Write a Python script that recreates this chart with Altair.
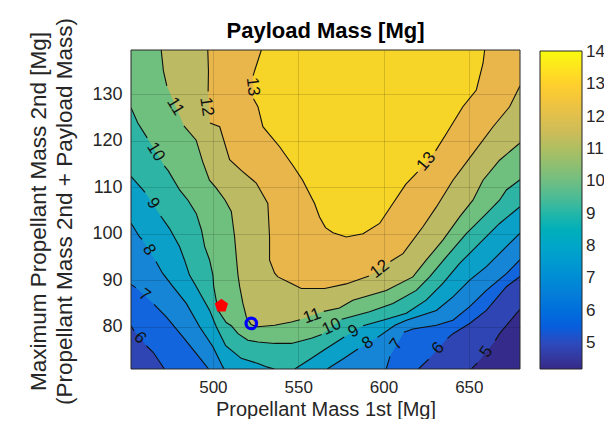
import altair as alt
import pandas as pd

# ---------------- data ----------------
x_domain = [452, 680]
y_domain = [70.9, 139.5]
x_ticks = [500, 550, 600, 650]
y_ticks = [80, 90, 100, 110, 120, 130]
levels = [5, 6, 7, 8, 9, 10, 11, 12, 13]
cbar_ticks = [5, 6, 7, 8, 9, 10, 11, 12, 13, 14]
cbar_domain = [4.2, 14.03]
title_text = "Payload Mass [Mg]"
x_title = "Propellant Mass 1st [Mg]"
y_title = ["Maximum Propellant Mass 2nd [Mg]", "(Propellant Mass 2nd + Payload Mass)"]

# fill colour of each band: <5, 5-6, 6-7, ..., 13-14
band_colors = ["#342B8A", "#2E45B3", "#1265DC", "#1785D5", "#0AA0C8",
               "#2DB4A5", "#6FBF7F", "#BCBA62", "#E9B64B", "#F7D428"]
parula = ["#352a87", "#0f5cdd", "#1481d6", "#06a4ca", "#2eb7a4",
          "#87bf77", "#d1bb59", "#fec832", "#f9fb0e"]

# contour lines: level -> branches -> segments (gaps where labels sit)
c5 = [[[(651.5, 70.9), (655.0, 72.2)],
       [(665.5, 77.0), (668, 78.5), (677.8, 82.8), (680, 83.7)]]]
c6 = [[[(452, 80.2), (453.8, 79.1)],
       [(461.0, 75.9), (465, 74.5), (470.7, 71.4), (471.5, 70.9)]],
      [[(620.5, 70.9), (626.5, 73.0)],
       [(637.5, 77.5), (640.7, 78.5), (650.5, 80.7), (660.3, 83.5), (672, 88.6), (680, 90.8)]]]
c7 = [[[(452, 89.1), (454.8, 88.4)],
       [(465.5, 84.8), (472.7, 82.1), (482.4, 77.8), (490.3, 74.2), (497.5, 70.9)]],
      [[(601.6, 70.9), (603.8, 73.6)],
       [(612.0, 78.8), (617.2, 79.5), (631, 80.3), (640.7, 81.4), (650.5, 84.3), (660.3, 87.8), (672, 91.4), (680, 94.4)]]]
c8 = [[[(452, 102.3), (457, 99.3), (458.5, 98.8)],
       [(466.6, 94.0), (470.5, 91.5), (476.6, 88.6), (484.4, 85.0), (492.2, 80.0), (500, 75.7), (505.9, 71.3), (506.6, 70.9)]],
      [[(567, 70.9), (576, 73.0), (585.0, 75.2)],
       [(596.5, 77.7), (606.7, 80.3), (613.4, 81.4), (631, 83.5), (640.7, 86.4), (650.5, 90.0), (660.3, 92.9), (672, 97.2), (680, 100.1)]]]
c9 = [[[(452, 112.3), (459, 109.4), (460.2, 108.9)],
       [(469.4, 103.8), (474.6, 101.1), (480.5, 97.2), (483.4, 94.3), (486.3, 91.1), (490.3, 88.6), (498.1, 83.5), (502, 80.0),
        (507.5, 75.9), (516.6, 73.2), (526.4, 72.1), (532, 71.3), (536, 70.9)]],
      [[(548, 70.9), (556, 72.8), (566, 75.2), (577.0, 77.8)],
       [(588.0, 80.2), (601.6, 81.6), (613.4, 82.9), (625, 85.7), (634.8, 89.3), (644.6, 93.6), (656.3, 97.9), (668, 102.2), (680, 105.8)]]]
c10 = [[[(452, 127.1), (456, 123.8), (461.5, 120.6)],
        [(471.5, 114.6), (473.7, 113.6), (480.5, 109.4), (485.4, 107.2), (490.3, 104.3), (493.3, 100.8), (495.2, 97.2),
         (498.1, 94.3), (500, 91.1), (500.5, 88.6), (503, 83.5), (507.8, 80.9), (510.8, 80.2), (514.7, 78.5), (520.5, 77.1),
         (526.4, 76.7), (536.2, 76.4), (546, 76.4), (557.7, 77.5), (563.8, 78.3)],
        [(575.5, 81.6), (591.8, 83.2), (605.5, 85.0), (619.2, 87.8), (627, 90.7), (636.8, 95.0), (648.5, 100.0), (660.3, 104.3),
         (668, 107.2), (672, 109.4), (680, 111.6)]]]
c11 = [[[(469.7, 139.5), (471, 135.0), (473.0, 131.8)],
        [(483.0, 123.2), (490.2, 120.1), (494, 115.5), (498, 111.5), (502, 109.8), (507, 107.3), (510.8, 104.8), (512.7, 99.4),
         (513.7, 95.1), (514.7, 91.1), (515.7, 88.6), (517.6, 85.0), (519.6, 82.1), (522.5, 80.4), (526.4, 80.0), (536.2, 80.3),
         (546, 81.0), (551.0, 81.5)],
        [(565.0, 83.3), (574.2, 84.0), (582, 85.7), (601.6, 87.8), (617.2, 90.7), (625, 94.3), (634.8, 98.6), (644.6, 103.6),
         (652.4, 107.2), (658.3, 111.5), (668, 115.8), (680, 119.5)]]]
c12 = [[[(497, 139.5), (497.4, 135.0), (497.2, 130.6)],
        [(498.3, 123.8), (504, 123.0), (509.8, 115.9), (516.6, 113.6), (525.4, 110.9), (532.2, 106.5), (533.2, 99.4),
         (533.2, 94.3), (536.2, 91.5), (538.1, 90.7), (546, 89.3), (551.8, 88.2), (565.5, 88.2), (578.1, 89.2), (591.5, 90.9)],
        [(604.0, 94.0), (611.4, 95.7), (623.1, 101.5), (630.9, 105.7), (640.7, 111.5), (652.4, 117.2), (664.2, 123.0),
         (673.9, 127.3), (680, 131.8)]]]
c13 = [[[(528.4, 139.5), (524.5, 135.1), (523.6, 134.0)],
        [(523.8, 129.0), (526.4, 127.3), (529.3, 123.0), (539.1, 118.7), (547, 114.6), (552.6, 111.5), (559.6, 106.5),
         (562.5, 103.6), (566, 101.3), (570.4, 100.2), (578.2, 99.3), (588, 100.0), (597.7, 102.2), (605.5, 106.5),
         (613, 110.6), (620.0, 113.3)],
        [(630.5, 117.8), (636.8, 121.5), (646.5, 127.3), (654.4, 130.9), (658.3, 136.6), (659.3, 139.5)]]]
contours = {5: c5, 6: c6, 7: c7, 8: c8, 9: c9, 10: c10, 11: c11, 12: c12, 13: c13}

# how each super-level region is closed along the frame
closing = {
    5: [(680, 139.5), (452, 139.5), (452, 70.9)],
    6: [(680, 139.5), (452, 139.5)],
    7: [(680, 139.5), (452, 139.5)],
    8: [(680, 139.5), (452, 139.5)],
    9: [(680, 139.5), (452, 139.5)],
    10: [(680, 139.5), (452, 139.5)],
    11: [(680, 139.5)],
    12: [(680, 139.5)],
    13: [],
}

# contour labels: text, x, y, angle
lab_text = ["13", "12", "11", "10", "9", "8", "7", "6",
            "11", "10", "9", "8", "7", "6", "5", "12", "13"]
lab_x = [523.4, 496.3, 478.0, 466.5, 464.9, 462.6, 460.0, 457.2,
         558.2, 569.6, 582.5, 590.8, 607.6, 632.0, 660.3, 597.8, 625.1]
lab_y = [131.6, 127.3, 127.4, 117.6, 106.5, 96.5, 86.8, 77.6,
         82.3, 80.0, 79.0, 76.5, 76.2, 75.4, 74.6, 92.4, 115.5]
lab_ang = [83, 82, 58, 58, 56, 58, 37, 47,
           340, 335, 330, 325, 305, 312, 305, 322, 310]

# design points
red_x, red_y = [505.0], [84.5]
blue_x, blue_y = [522.5], [80.7]

# ---------------- build tables ----------------
poly_rows, line_rows = [], []
for lvl, branches in contours.items():
    pts = [p for b in branches for s in b for p in s] + closing[lvl]
    for i, (x, y) in enumerate(pts):
        poly_rows.append({"lvl": lvl, "x": x, "y": y, "o": i})
    sid = 0
    for b in branches:
        for s in b:
            for i, (x, y) in enumerate(s):
                line_rows.append({"seg": f"{lvl}_{sid}", "x": x, "y": y, "o": i})
            sid += 1
poly_df = pd.DataFrame(poly_rows)
line_df = pd.DataFrame(line_rows)
lab_df = pd.DataFrame({"t": lab_text, "x": lab_x, "y": lab_y, "a": lab_ang})

FONT = "Liberation Sans"
W, H = 389, 319

xs = alt.Scale(domain=x_domain, nice=False, zero=False)
ys = alt.Scale(domain=y_domain, nice=False, zero=False)
x_axis = alt.Axis(values=x_ticks, title=x_title, grid=True, ticks=False, tickSize=0,
                  domain=False, labelFont=FONT, labelFontSize=17, labelColor="#262626", labelPadding=10,
                  titleFont=FONT, titleFontSize=20, titleFontWeight="normal", titleColor="#262626",
                  titleY=46, titleBaseline="alphabetic", gridColor="#000000", gridOpacity=0.14, zindex=1)
y_axis = alt.Axis(values=y_ticks, title=y_title,
                  grid=True, ticks=False, tickSize=0, domain=False, labelFont=FONT, labelFontSize=18,
                  labelColor="#262626", labelPadding=9, titleFont=FONT, titleFontSize=22.5, titleFontWeight="normal",
                  titleColor="#262626", titleAngle=270, titleX=-104, titleY=161, titleAlign="center",
                  titleBaseline="top", titleLineHeight=26, gridColor="#000000", gridOpacity=0.14, zindex=1)
X = alt.X("x:Q", scale=xs, axis=x_axis)
Y = alt.Y("y:Q", scale=ys, axis=y_axis)

layers = []
for k, lvl in enumerate(levels):
    layers.append(
        alt.Chart(poly_df[poly_df.lvl == lvl]).mark_line(fill=band_colors[k + 1], strokeOpacity=0, clip=True)
        .encode(x=X, y=Y, order="o:Q")
    )

lines = alt.Chart(line_df).mark_line(color="#111111", strokeWidth=1.1, clip=True).encode(
    x=X, y=Y, detail="seg:N", order="o:Q")

labels = alt.Chart(lab_df).mark_text(font=FONT, fontSize=17, color="#111111", align="center",
                                     baseline="middle").encode(
    x=X, y=Y, text="t:N", angle=alt.Angle("a:Q", scale=None))

red = alt.Chart(pd.DataFrame({"x": red_x, "y": red_y})).mark_point(
    shape="M0,-1L0.95,-0.31L0.59,0.81L-0.59,0.81L-0.95,-0.31Z", filled=True, color="#FF0000",
    stroke="#FF0000", strokeWidth=2, size=130, opacity=1).encode(x=X, y=Y)
blue = alt.Chart(pd.DataFrame({"x": blue_x, "y": blue_y})).mark_point(
    shape="circle", filled=False, color="#0000FF", strokeWidth=3.2, size=110, opacity=1).encode(x=X, y=Y)

cbar = alt.Chart(pd.DataFrame({"z": levels})).mark_point(opacity=0).encode(
    x=alt.value(0), y=alt.value(0),
    color=alt.Color("z:Q", scale=alt.Scale(domain=cbar_domain, range=parula),
                    legend=alt.Legend(title=None, orient="none", legendX=409, legendY=1, direction="vertical",
                                      gradientLength=318, gradientThickness=42, values=cbar_ticks,
                                      labelFont=FONT, labelFontSize=17, labelColor="#262626", labelOffset=4,
                                      gradientStrokeColor="#262626", gradientStrokeWidth=1, padding=0)))

frame = alt.Chart(pd.DataFrame({"d": [0]})).mark_rect(fillOpacity=0, stroke="#262626", strokeWidth=1).encode(
    x=alt.value(0), x2=alt.value(W), y=alt.value(0), y2=alt.value(H))

title = alt.Chart(pd.DataFrame({"t": [title_text]})).mark_text(
    font=FONT, fontSize=22, fontWeight="bold", color="#000000", align="center", baseline="alphabetic"
).encode(x=alt.value(W / 2), y=alt.value(-12), text="t:N")

chart = alt.layer(*layers, lines, labels, red, blue, cbar, frame, title).properties(
    width=W, height=H,
    background="#FFFFFF",
    padding={"left": 123, "top": 42, "right": 84, "bottom": 50},
    autosize=alt.AutoSizeParams(type="none"),
).configure_view(fill=band_colors[0], strokeWidth=0)

chart.save("out.html", embed_options={"renderer": "svg", "actions": False})
